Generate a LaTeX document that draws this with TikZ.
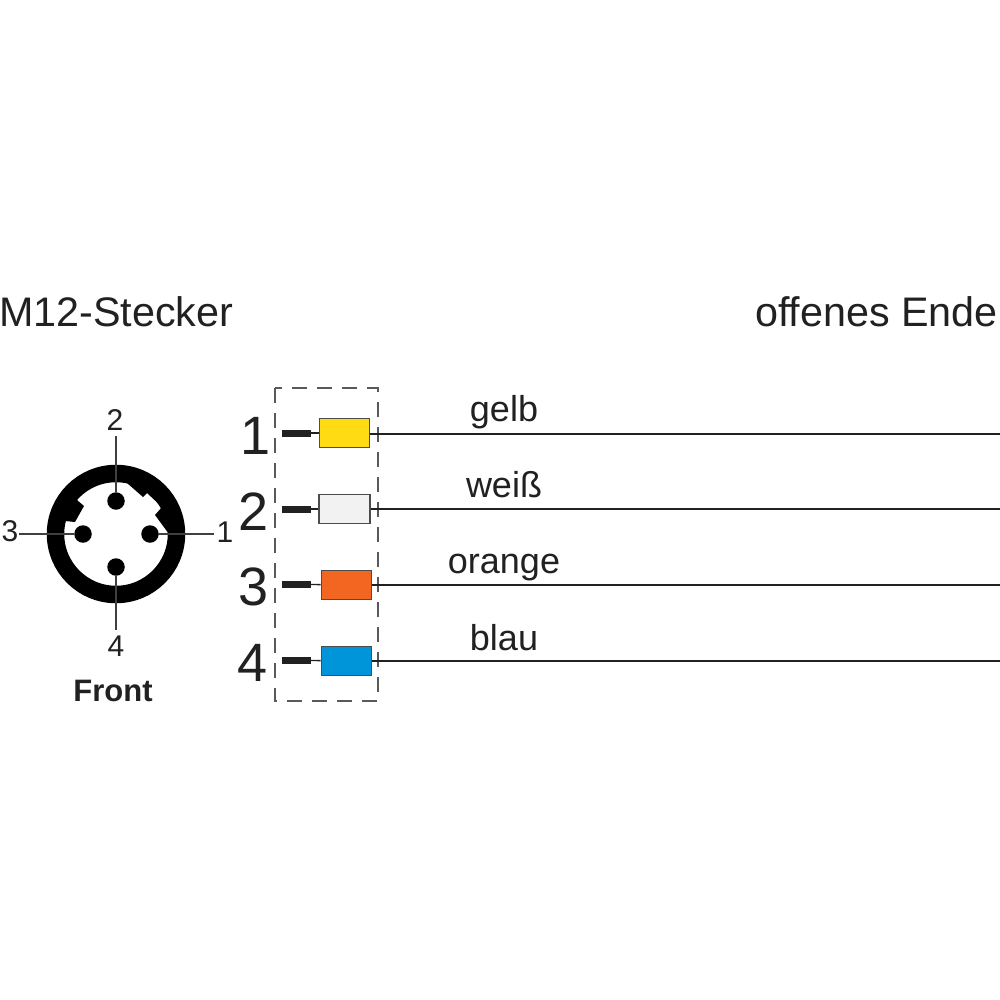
\documentclass[tikz,border=0pt]{standalone}
\usepackage{fontspec}
\setmainfont{Liberation Sans}
\usetikzlibrary{positioning}
\definecolor{ink}{rgb}{0.13,0.13,0.13}
\definecolor{gelb}{rgb}{1,0.86,0.08}
\definecolor{weiss}{rgb}{0.95,0.95,0.95}
\definecolor{orange}{rgb}{0.95,0.40,0.13}
\definecolor{blau}{rgb}{0,0.58,0.85}
\tikzset{
	pin/.style={circle,fill=black,inner sep=0pt,minimum size=17.5pt},
	pinlabel/.style={font=\fontsize{30}{30}\selectfont,text=ink,inner sep=0pt},
	bignum/.style={font=\fontsize{54}{54}\selectfont,text=ink,inner sep=0pt},
	wirelabel/.style={font=\fontsize{36}{36}\selectfont,text=ink,inner sep=0pt,anchor=base},
	title/.style={font=\fontsize{41.3}{41.3}\selectfont,text=ink,inner sep=0pt},
	ferrule/.style={draw=black!70,line width=1.6pt,minimum width=50pt,minimum height=29pt,inner sep=0pt},
	wire/.style={draw=ink,line width=2pt},
	stub/.style={draw=ink,line width=7pt},
	pinline/.style={draw=black!75,line width=1.4pt},
}
\begin{document}
\begin{tikzpicture}[x=1pt,y=-1pt]
	\useasboundingbox (0,0) rectangle (1000,1000);
	\fill[white] (0,0) rectangle (1000,1000);

	% titles
	\node[title,anchor=base west] (left) at (-1,326) {M12-Stecker};
	\node[title,anchor=base east] (right) at (998,326) {offenes Ende};

	% connector
	\coordinate (c) at (116,534);
	\draw[line width=17.5pt] (c) circle (60.5);
	\fill[black] (127,483) -- (143,497) -- (147,493) -- (162,507) -- (155,515) -- (169,534) -- (175,534) -- (172,505) -- (150,480) -- (127,475) -- cycle;
	\fill[black] (77,500) -- (84,506) -- (75,522) -- (65,521) -- (55,520) -- (65,500) -- cycle;

	\node[pin] (p1) at (150,534) {};
	\node[pin] (p2) at (116,501) {};
	\node[pin] (p3) at (83,534) {};
	\node[pin] (p4) at (116,567) {};

	\node[pinlabel] (l1) at (225,532) {1};
	\node[pinlabel] (l2) at (115,420) {2};
	\node[pinlabel] (l3) at (10,531) {3};
	\node[pinlabel] (l4) at (116,646) {4};
	\node[font=\fontsize{31}{31}\selectfont\bfseries,text=ink,inner sep=0pt] (front) at (113,691) {Front};

	\draw[pinline] (p1) -- (214,534);
	\draw[pinline] (p2) -- (116,436);
	\draw[pinline] (p3) -- (19,534);
	\draw[pinline] (p4) -- (116,630);

	% dashed frame
	\draw[dashed,draw=black!65,line width=1.3pt,dash pattern=on 15pt off 10pt] (275,388) rectangle (378,701);

	% wires
	\node[bignum] (n1) at (256,436) {1};
	\node[bignum] (n2) at (254,512) {2};
	\node[bignum] (n3) at (254,587) {3};
	\node[bignum] (n4) at (253,663) {4};

	\node[ferrule,fill=gelb] (b1) at (344.5,433) {};
	\node[ferrule,fill=weiss,minimum width=51pt] (b2) at (344.5,509) {};
	\node[ferrule,fill=orange] (b3) at (346.5,585) {};
	\node[ferrule,fill=blau] (b4) at (346.5,661) {};

	\coordinate (s1) at (282,433);
	\coordinate (s2) at (282,509);
	\coordinate (s3) at (282,584);
	\coordinate (s4) at (282,660);
	\coordinate (e1) at (1000,434);
	\coordinate (e2) at (1000,509);
	\coordinate (e3) at (1000,585);
	\coordinate (e4) at (1000,661);

	\foreach \i in {1,2,3,4} {
		\draw[stub] (s\i) -- ++(29,0);
		\draw[line width=1.4pt,draw=ink] (s\i) -- (b\i);
		\draw[wire] (b\i.east |- e\i) -- (e\i);
	}

	\node[wirelabel] (t1) at (504,421) {gelb};
	\node[wirelabel] (t2) at (504,497) {weiß};
	\node[wirelabel] (t3) at (504,573) {orange};
	\node[wirelabel] (t4) at (504,650) {blau};
\end{tikzpicture}
\end{document}
